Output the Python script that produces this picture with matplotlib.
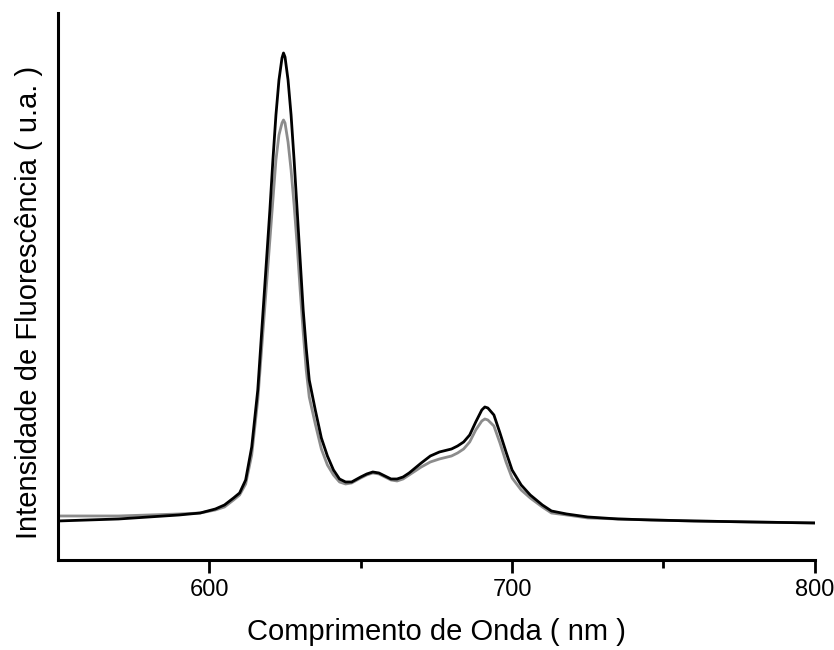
import numpy as np
import matplotlib.pyplot as plt

plt.rcParams['font.family'] = ['Liberation Sans', 'DejaVu Sans']

# wavelength (nm) and intensities (arbitrary units)
wl = [550, 560, 570, 580, 590, 597, 602, 605, 608, 610, 612, 614, 616, 617, 618,
      619, 620, 621, 622, 623, 624, 624.5, 625, 626, 627, 628, 629, 630, 631,
      632, 633, 635, 637, 639, 641, 643, 645, 647, 650, 652, 654, 656, 658, 660,
      662, 664, 666, 668, 670, 673, 676, 680, 682, 684, 686, 688, 690, 691, 692,
      694, 696, 698, 700, 703, 706, 710, 713, 718, 725, 735, 746, 760, 779, 800]
black = [39, 40, 41, 43, 45, 47, 51, 55, 62, 67, 80, 113, 170, 215, 260,
         305, 350, 400, 445, 480, 502, 507, 503, 480, 445, 400, 350, 300, 250,
         212, 180, 150, 122, 104, 90, 81, 78, 78, 83, 86, 88, 87, 84, 81,
         81, 83, 87, 92, 97, 104, 108, 111, 114, 118, 125, 138, 150, 153, 152,
         145, 127, 108, 90, 75, 65, 55, 49, 46, 43, 41, 40, 39, 38, 37]
gray = [44, 44, 44, 45, 46, 47, 50, 53, 60, 65, 76, 105, 160, 200, 240,
        280, 320, 360, 400, 425, 437, 440, 437, 418, 390, 355, 315, 270, 228,
        190, 163, 136, 111, 95, 85, 78, 76, 77, 82, 85, 87, 86, 83, 80,
        79, 81, 85, 89, 93, 98, 101, 104, 107, 111, 118, 130, 139, 141, 140,
        134, 117, 98, 82, 70, 62, 53, 47, 45, 42, 41, 40, 39, 38, 37]

fig = plt.figure(figsize=(8.34, 6.5), dpi=100)
ax = fig.add_axes([0.0695, 0.1385, 0.9075, 0.8415])
ax.plot(wl, black, color="black", lw=2.0, zorder=3)
ax.plot(wl, gray, color="#8c8c8c", lw=2.0, zorder=2)

ax.set_xlim(550, 800)
ax.set_ylim(0, 547)
ax.set_xticks([600, 700, 800])
ax.set_xticks([650, 750], minor=True)
ax.set_yticks([])
ax.tick_params(axis='x', which='major', direction='out', length=9, width=2, labelsize=17, pad=5)
ax.tick_params(axis='x', which='minor', direction='out', length=6, width=2)
for s in ['top', 'right']:
    ax.spines[s].set_visible(False)
for s in ['left', 'bottom']:
    ax.spines[s].set_linewidth(2.2)

ax.set_xlabel("Comprimento de Onda ( nm )", fontsize=21, labelpad=12)
ax.set_ylabel("Intensidade de Fluorescência ( u.a. )", fontsize=21)
ax.yaxis.set_label_coords(-0.02, 0.47)

plt.savefig("out.png", dpi=100)
